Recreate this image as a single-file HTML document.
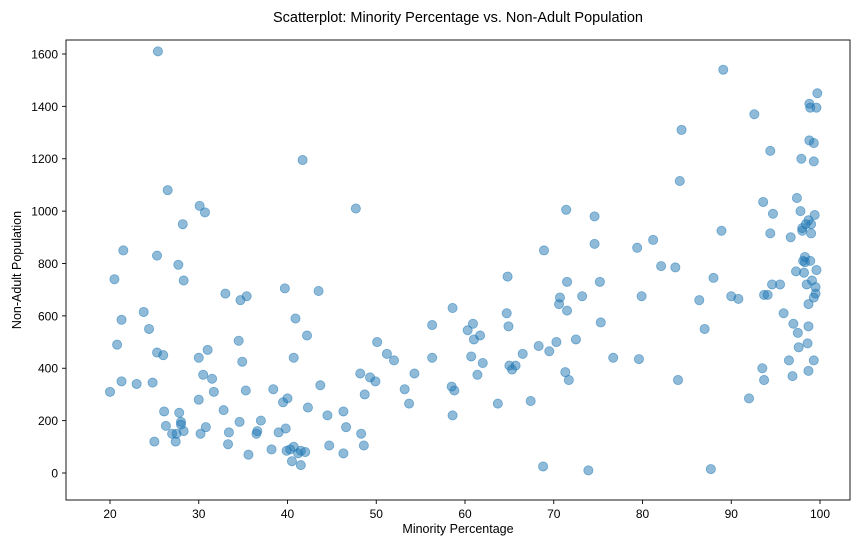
<!DOCTYPE html>
<html><head><meta charset="utf-8"><style>
html,body{margin:0;padding:0;background:#fff;}
svg{display:block;font-family:"Liberation Sans","DejaVu Sans",sans-serif;}
</style></head><body>
<svg id="chart" width="859" height="545" viewBox="0 0 859 545">
<text x="458" y="22" text-anchor="middle" font-size="14.5" fill="#000">Scatterplot: Minority Percentage vs. Non-Adult Population</text>
<text x="458" y="533" text-anchor="middle" font-size="12.5">Minority Percentage</text>
<text x="21" y="270" text-anchor="middle" font-size="12.5" transform="rotate(-90 21 270)">Non-Adult Population</text>
<g id="points"></g>
<g id="xticks"></g>
<g id="yticks"></g>
<rect x="66" y="40" width="784" height="460" fill="none" stroke="#000" stroke-width="0.9"/>
</svg>
<script>
const xTicks=[20,30,40,50,60,70,80,90,100];
const yTicks=[0,200,400,600,800,1000,1200,1400,1600];
const minorityPct=[20,20.5,20.8,21.3,21.5,21.3,23,23.8,24.4,24.8,25,25.3,25.3,25.4,26,26.1,26.3,26.5,27,27.4,27.5,27.7,27.8,28,28,28.2,28.3,28.3,30,30,30.1,30.2,30.5,30.7,30.8,31,31.5,31.7,32.8,33,33.3,33.4,34.5,34.6,34.7,34.9,35.3,35.4,35.6,36.5,36.6,37,38.2,38.4,39,39.5,39.7,39.8,39.9,40,40.3,40.5,40.7,40.7,40.9,41.2,41.5,41.5,41.7,42,42.2,42.3,43.5,43.7,44.5,44.7,46.3,46.3,46.6,47.7,48.2,48.3,48.6,48.7,49.3,49.9,50.1,51.2,52,53.2,53.7,54.3,56.3,56.3,58.5,58.6,58.6,58.8,60.3,60.7,60.9,61,61.4,61.7,62,63.7,64.7,64.8,64.9,65,65.3,65.7,66.5,67.4,68.3,68.8,68.9,69.5,70.3,70.6,70.7,71.3,71.4,71.5,71.5,71.7,72.5,73.2,73.9,74.6,74.6,75.2,75.3,76.7,79.4,79.6,79.9,81.2,82.1,83.7,84,84.2,84.4,86.4,87,87.7,88,88.9,89.1,90,90.8,92,92.6,93.5,93.6,93.7,93.7,94.1,94.4,94.4,94.7,95.5,94.6,95.9,96.5,96.7,96.9,97,97.3,97.4,97.5,97.6,97.8,97.9,98,98,98.1,98.2,98.3,98.3,98.4,98.5,98.6,98.7,98.7,98.7,98.7,98.8,98.9,98.8,99,98.9,99,99.1,99.3,99.3,99.3,99.3,99.4,99.5,99.5,99.6,99.6,99.7];
const nonAdultPop=[310,740,490,585,850,350,340,615,550,345,120,460,830,1610,450,235,180,1080,150,120,150,795,230,195,185,950,160,735,280,440,1020,150,375,995,175,470,360,310,240,685,110,155,505,195,660,425,315,675,70,150,160,200,90,320,155,270,705,170,85,285,90,45,100,440,590,75,85,30,1195,80,525,250,695,335,220,105,235,75,175,1010,380,150,105,300,365,350,500,455,430,320,265,380,565,440,330,630,220,315,545,445,570,510,375,525,420,265,610,750,560,410,395,410,455,275,485,25,850,465,500,645,670,385,1005,620,730,355,510,675,10,980,875,730,575,440,860,435,675,890,790,785,355,1115,1310,660,550,15,745,925,1540,675,665,285,1370,400,1035,355,680,680,1230,915,990,720,720,610,430,900,370,570,770,1050,535,480,1000,1200,935,925,810,765,805,825,950,720,495,645,390,965,560,1410,1395,1270,950,810,915,735,670,1260,430,1190,985,710,685,1395,775,1450];
const NS='http://www.w3.org/2000/svg';
const xScale=v=>110+(v-20)*8.875;
const yScale=v=>473-v*0.26188;
const pg=document.getElementById('points');
for(let i=0;i<minorityPct.length;i++){
  const c=document.createElementNS(NS,'circle');
  c.setAttribute('cx',xScale(minorityPct[i]));
  c.setAttribute('cy',yScale(nonAdultPop[i]));
  c.setAttribute('r',4.6);
  c.setAttribute('fill','#1f77b4');
  c.setAttribute('fill-opacity','0.5');
  c.setAttribute('stroke','#1f77b4');
  c.setAttribute('stroke-opacity','0.55');
  c.setAttribute('stroke-width','0.8');
  
  
  pg.appendChild(c);
}
const xg=document.getElementById('xticks');
xTicks.forEach(t=>{
  const x=xScale(t);
  const l=document.createElementNS(NS,'line');
  l.setAttribute('x1',x);l.setAttribute('x2',x);l.setAttribute('y1',500);l.setAttribute('y2',504);
  l.setAttribute('stroke','#000');l.setAttribute('stroke-width','0.9');
  
  
  xg.appendChild(l);
  const tx=document.createElementNS(NS,'text');
  tx.setAttribute('x',x);tx.setAttribute('y',518);tx.setAttribute('text-anchor','middle');tx.setAttribute('font-size','12');
  tx.textContent=t;
  
  
  xg.appendChild(tx);
});
const yg=document.getElementById('yticks');
yTicks.forEach(t=>{
  const y=yScale(t);
  const l=document.createElementNS(NS,'line');
  l.setAttribute('x1',62);l.setAttribute('x2',66);l.setAttribute('y1',y);l.setAttribute('y2',y);
  l.setAttribute('stroke','#000');l.setAttribute('stroke-width','0.9');
  
  
  yg.appendChild(l);
  const tx=document.createElementNS(NS,'text');
  tx.setAttribute('x',58);tx.setAttribute('y',y+4.5);tx.setAttribute('text-anchor','end');tx.setAttribute('font-size','12');
  tx.textContent=t;
  
  
  yg.appendChild(tx);
});
</script>
</body></html>
